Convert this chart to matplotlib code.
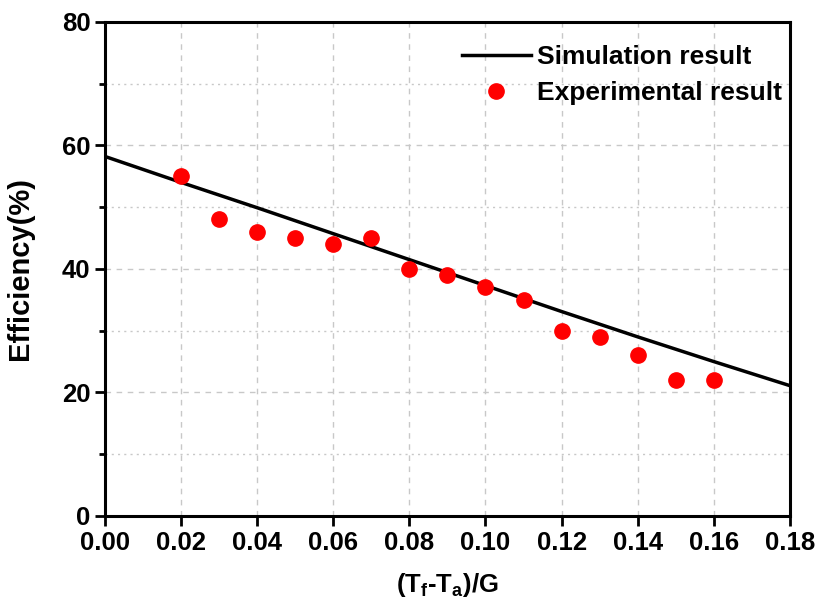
import numpy as np
import matplotlib.pyplot as plt
from matplotlib.ticker import MultipleLocator

plt.rcParams['font.family'] = ['Liberation Sans', 'DejaVu Sans']
plt.rcParams['font.weight'] = 'bold'
plt.rcParams['mathtext.fontset'] = 'custom'
plt.rcParams['mathtext.rm'] = 'Liberation Sans:bold'
plt.rcParams['mathtext.it'] = 'Liberation Sans:bold'
plt.rcParams['mathtext.bf'] = 'Liberation Sans:bold'

# simulation curve
sim_x = [0.00, 0.02, 0.04, 0.06, 0.08, 0.10, 0.12, 0.14, 0.16, 0.18]
sim_y = [58.2, 54.0, 49.9, 45.7, 41.5, 37.3, 33.1, 29.0, 25.0, 21.1]

# experimental points
exp_x = [0.02, 0.03, 0.04, 0.05, 0.06, 0.07, 0.08, 0.09, 0.10, 0.11, 0.12, 0.13, 0.14, 0.15, 0.16]
exp_y = [55, 48, 46, 45, 44, 45, 40, 39, 37, 35, 30, 29, 26, 22, 22]

fig = plt.figure(figsize=(8.21, 6.07), dpi=100)
ax = fig.add_axes([0.128, 0.150, 0.834, 0.814])

ax.plot(sim_x, sim_y, color='black', lw=2.5, label='Simulation result', zorder=3)
ax.plot(exp_x, exp_y, 'o', color='#ff0000', ms=11, label='Experimental result', zorder=4)

ax.set_xlim(0, 0.18)
ax.set_ylim(0, 80)
ax.xaxis.set_major_locator(MultipleLocator(0.02))
ax.yaxis.set_major_locator(MultipleLocator(20))
ax.yaxis.set_minor_locator(MultipleLocator(10))
ax.xaxis.set_major_formatter(plt.FuncFormatter(lambda v, p: f"{v:.2f}"))

ax.grid(True, which='major', ls=(0, (4, 4)), color='#c8c8c8', lw=1)
ax.grid(True, which='minor', axis='y', ls=(0, (1.5, 3)), color='#c8c8c8', lw=1)
ax.set_axisbelow(True)

for s in ax.spines.values():
    s.set_linewidth(2.2)
ax.tick_params(which='major', direction='out', length=7, width=2, labelsize=18.5)
ax.tick_params(which='minor', direction='out', length=4, width=2)

ax.set_xlabel(r'(T$_f$-T$_a$)/G', fontsize=18.5, fontweight='bold', labelpad=12)
ax.set_ylabel('Efficiency(%)', fontsize=21, fontweight='bold', labelpad=20)

ax.legend(loc='upper right', frameon=False, fontsize=19, handlelength=2.6,
          handletextpad=0.25, labelspacing=0.45, borderaxespad=0.2,
          bbox_to_anchor=(1.012, 0.985))

fig.savefig('out.png', dpi=100)
